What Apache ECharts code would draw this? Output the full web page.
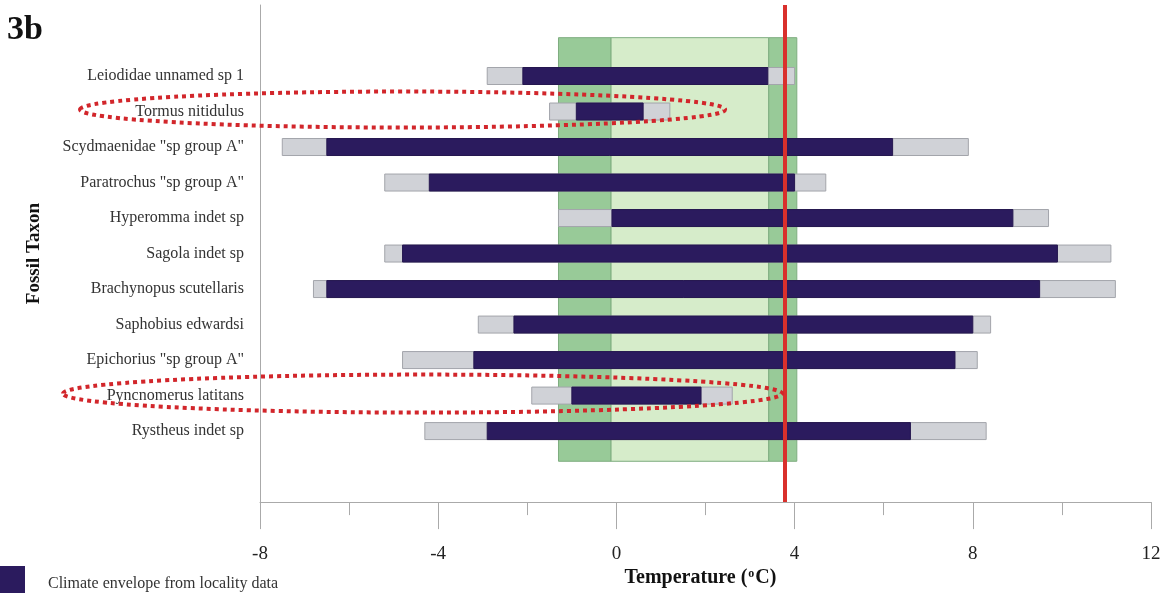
<!DOCTYPE html>
<html>
<head>
<meta charset="utf-8">
<script src="https://cdn.jsdelivr.net/npm/echarts@6/dist/echarts.min.js"></script>
<style>html,body{margin:0;padding:0;background:#fff}#c{width:1167px;height:593px}</style>
</head>
<body>
<div id="c"></div>
<script>
// ---- data ----
var taxa = ['Leiodidae unnamed sp 1', 'Tormus nitidulus', 'Scydmaenidae "sp group A"', 'Paratrochus "sp group A"', 'Hyperomma indet sp', 'Sagola indet sp', 'Brachynopus scutellaris', 'Saphobius edwardsi', 'Epichorius "sp group A"', 'Pyncnomerus latitans', 'Rystheus indet sp'];
var greyMin = [-2.9, -1.5, -7.5, -5.2, -1.3, -5.2, -6.8, -3.1, -4.8, -1.9, -4.3];
var greyMax = [4.0, 1.2, 7.9, 4.7, 9.7, 11.1, 11.2, 8.4, 8.1, 2.6, 8.3];
var darkMin = [-2.1, -0.9, -6.5, -4.2, -0.1, -4.8, -6.5, -2.3, -3.2, -1.0, -2.9];
var darkMax = [3.4, 0.6, 6.2, 4.0, 8.9, 9.9, 9.5, 8.0, 7.6, 1.9, 6.6];
var bandEdges = [-1.3, -0.12, 3.42, 4.05];   // dark | light | dark green bands
var currentTemp = 3.79;                       // red line
var xTicks = [-8, -4, 0, 4, 8, 12];
var highlighted = [1, 9];                     // rows circled in red
var legendLabel = 'Climate envelope from locality data';

// ---- layout constants ----
var ROW0 = 2;            // first row position on the hidden y scale
var BAND_TOP = 0.92, BAND_BOT = 12.85;
var BAR_H = 17;
var SERIF = '"Liberation Serif","DejaVu Serif",serif';

var chart = echarts.init(document.getElementById('c'));

var rows = taxa.map(function (t, i) { return [greyMin[i], greyMax[i], darkMin[i], darkMax[i], ROW0 + i]; });
var bands = [
  [bandEdges[0], bandEdges[1], '#98ca98'],
  [bandEdges[1], bandEdges[2], '#d6ecca'],
  [bandEdges[2], bandEdges[3], '#98ca98']
];

function rectItem(api, x0, x1, y, h, fill, stroke) {
  var p0 = api.coord([x0, y]);
  var p1 = api.coord([x1, y]);
  return {
    type: 'rect',
    shape: { x: p0[0], y: p0[1] - h / 2, width: p1[0] - p0[0], height: h },
    style: { fill: fill, stroke: stroke, lineWidth: 1 }
  };
}

chart.setOption({
  animation: false,
  title: {
    text: '3b', left: 7, top: 13, padding: 0,
    textStyle: { fontFamily: SERIF, fontWeight: 'bold', fontSize: 34, color: '#111' }
  },
  legend: {
    left: 0, top: 566, padding: 0, icon: 'rect', itemWidth: 25, itemHeight: 28,
    data: [legendLabel],
    formatter: function () { return ''; }
  },
  graphic: [],
  grid: { left: 260, right: 16, top: 5, bottom: 88 },
  xAxis: {
    type: 'value', min: xTicks[0], max: xTicks[xTicks.length - 1], interval: 4,
    axisLine: { show: true, onZero: false, lineStyle: { color: '#aaa', width: 1 } },
    axisTick: { show: true, length: 27, lineStyle: { color: '#aaa' } },
    minorTick: { show: true, splitNumber: 2, length: 13, lineStyle: { color: '#aaa' } },
    splitLine: { show: false },
    axisLabel: { margin: 42, fontFamily: SERIF, fontSize: 19, color: '#222' },
    name: '{a|Temperature (}{s|o}{a|C)}',
    nameLocation: 'middle', nameGap: 63,
    nameTextStyle: {
      padding: [0, 10, 0, 0],
      rich: {
        a: { fontFamily: SERIF, fontWeight: 'bold', fontSize: 20, color: '#111' },
        s: { fontFamily: SERIF, fontWeight: 'bold', fontSize: 12, color: '#111', verticalAlign: 'top', padding: [0, 1, 8, 1] }
      }
    }
  },
  yAxis: {
    type: 'value', min: 0, max: 14, interval: 1, inverse: true,
    axisLine: { show: true, onZero: false, lineStyle: { color: '#aaa', width: 1 } },
    axisTick: { show: false },
    splitLine: { show: false },
    axisLabel: {
      margin: 16, fontFamily: SERIF, fontSize: 16, color: '#333',
      formatter: function (v) { var k = v - ROW0; return (k >= 0 && k < taxa.length) ? taxa[k] : ''; }
    },
    name: 'Fossil Taxon', nameLocation: 'middle', nameGap: 216, nameRotate: 90,
    nameTextStyle: { fontFamily: SERIF, fontWeight: 'bold', fontSize: 19, color: '#111' }
  },
  series: [
    {
      name: 'bands', type: 'custom', data: bands, z: 1,
      encode: { x: [0, 1] },
      renderItem: function (params, api) {
        var x0 = api.value(0), x1 = api.value(1);
        var p0 = api.coord([x0, BAND_TOP]);
        var p1 = api.coord([x1, BAND_BOT]);
        return {
          type: 'rect',
          shape: { x: p0[0], y: p0[1], width: p1[0] - p0[0], height: p1[1] - p0[1] },
          style: { fill: bands[params.dataIndex][2], stroke: '#7fae80', lineWidth: 1 }
        };
      },
      markLine: {
        silent: true, symbol: 'none', label: { show: false },
        lineStyle: { color: '#d9302c', width: 4, type: 'solid' },
        data: [{ xAxis: currentTemp }]
      }
    },
    {
      name: 'range', type: 'custom', data: rows, z: 2,
      encode: { x: [0, 1], y: 4 },
      renderItem: function (params, api) {
        return rectItem(api, api.value(0), api.value(1), api.value(4), BAR_H, '#d0d2d7', '#a3a5ab');
      }
    },
    {
      name: legendLabel, type: 'custom', data: rows, z: 3,
      itemStyle: { color: '#2b1b5e' },
      encode: { x: [2, 3], y: 4 },
      renderItem: function (params, api) {
        return rectItem(api, api.value(2), api.value(3), api.value(4), BAR_H, '#2b1b5e', '#25174f');
      }
    }
  ]
});

// red dotted ellipses around highlighted rows (annotation), placed via the chart's scales
var ellipseSpan = [[-12.04, 2.44, 18], [-12.42, 3.72, 19]];
var g = highlighted.map(function (r, i) {
  var a = chart.convertToPixel({ gridIndex: 0 }, [ellipseSpan[i][0], ROW0 + r]);
  var b = chart.convertToPixel({ gridIndex: 0 }, [ellipseSpan[i][1], ROW0 + r]);
  return {
    type: 'ellipse', z: 100,
    shape: { cx: (a[0] + b[0]) / 2, cy: a[1] - 2, rx: (b[0] - a[0]) / 2, ry: ellipseSpan[i][2] },
    style: { fill: 'none', stroke: '#d2262b', lineWidth: 4, lineDash: [4, 4] }
  };
});
// legend label text
g.push({
  type: 'text', left: 48, top: 576, z: 100,
  style: { text: legendLabel, fontFamily: SERIF, fontSize: 16, fill: '#333' }
});
chart.setOption({ graphic: g });
</script>
</body>
</html>
